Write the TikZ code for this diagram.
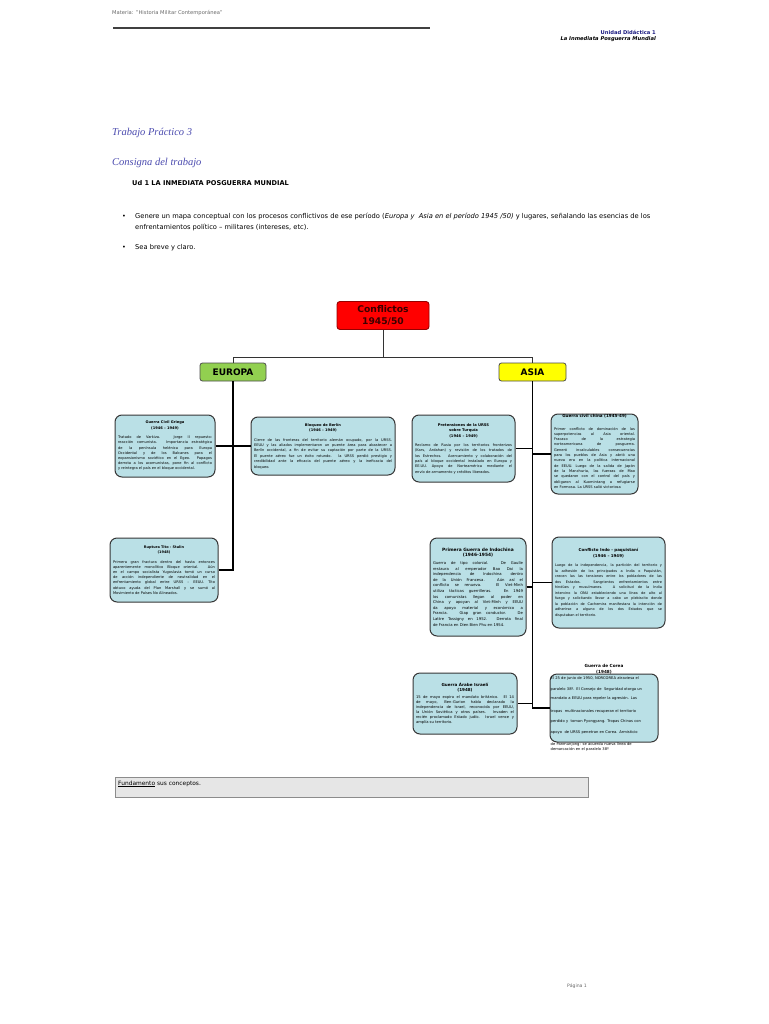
\documentclass[tikz,border=0pt]{standalone}
\usepackage{fontspec}
\setmainfont{DejaVu Sans}
\newfontfamily\serifit{Liberation Serif}
\definecolor{boxblue}{RGB}{186,224,230}
\definecolor{boxline}{RGB}{55,55,55}
\definecolor{eurgreen}{RGB}{146,208,80}
\definecolor{asiayellow}{RGB}{255,255,0}
\definecolor{confred}{RGB}{255,0,0}
\definecolor{confborder}{RGB}{150,0,0}
\definecolor{conftext}{RGB}{60,0,0}
\definecolor{titleblue}{RGB}{75,75,175}
\definecolor{navyblue}{RGB}{30,30,130}
\definecolor{hdrgray}{RGB}{105,105,105}
\definecolor{fundgray}{RGB}{230,230,230}
\newcommand\fs[2]{\fontsize{#1}{#2}\selectfont}
\newcommand\Jl[1]{\makebox[\linewidth][s]{#1}}
\newcommand\J[1]{\makebox[\linewidth][s]{#1}\newline}
\newcommand\btitle[2]{{\centering\bfseries\fs{#1}{5.6}#2\par}\vspace{4pt}}
\tikzset{
  concept/.style={draw=boxline, line width=1pt, fill=boxblue, rounded corners=7pt,
    inner xsep=3pt, inner ysep=2pt, align=justify},
  link/.style={line width=1.1pt, draw=black},
  toplink/.style={line width=1pt, draw=black!80},
  region/.style={draw=black!70, line width=0.8pt, rounded corners=2.5pt,
    font=\bfseries\fs{9}{10}, inner sep=0pt, minimum height=18pt},
  plain/.style={inner sep=0pt, align=left}
}
\begin{document}
\begin{tikzpicture}[x=1pt,y=-1pt]
\useasboundingbox[fill=white] (0,0) rectangle (768,1024);

% header
\node[plain, anchor=west, text=hdrgray, font=\fs{5.2}{6}] (materia) at (112,13) {Materia: "Historia Militar Contemporánea"};
\draw[line width=1.3pt, black!75] (113,28) -- (430,28);
\node[plain, anchor=east, text=navyblue, font=\bfseries\fs{5.2}{6}] (unidad) at (656,32) {Unidad Didáctica 1};
\node[plain, anchor=east, font=\bfseries\itshape\fs{5.2}{6}] (inmed) at (656,39) {La Inmediata Posguerra Mundial};

% titles
\node[plain, anchor=west, text=titleblue, font=\serifit\itshape\fs{10.5}{12}] (tp) at (112,133) {Trabajo Práctico 3};
\node[plain, anchor=west, text=titleblue, font=\serifit\itshape\fs{10.5}{12}] (cons) at (112,163) {Consigna del trabajo};
\node[plain, anchor=west, font=\bfseries\fs{6.6}{7}] (ud) at (132,183) {Ud 1 LA INMEDIATA POSGUERRA MUNDIAL};

% bullets
\node[plain, anchor=west, font=\fs{6.5}{7}] (b1) at (122,217) {•};
\node[plain, anchor=north west, font=\fs{6.7}{11}] (bt1) at (135,213.2) {Genere un mapa conceptual con los procesos conflictivos de ese período (\textit{Europa y\ \ Asia en el período 1945 /50)} y lugares, señalando las esencias de los\\enfrentamientos político – militares (intereses, etc).};
\node[plain, anchor=west, font=\fs{6.5}{7}] (b2) at (122,248) {•};
\node[plain, anchor=west, font=\fs{6.7}{7}] (bt2) at (135,248) {Sea breve y claro.};

% top of the map
\node[draw=confborder, line width=0.9pt, fill=confred, rounded corners=3pt, minimum width=92pt, minimum height=28pt,
  align=center, text=conftext, font=\bfseries\fs{9.2}{12.5}, inner sep=0pt] (conf) at (383,315.5) {Conflictos\\1945/50};
\node[region, fill=eurgreen, minimum width=66pt] (eur) at (233,372) {EUROPA};
\node[region, fill=asiayellow, minimum width=67pt] (asia) at (532.5,372) {ASIA};
\coordinate (hub) at (383,357);
\draw[toplink] (conf.south) -- (hub);
\draw[toplink] (eur.north) |- (hub);
\draw[toplink] (asia.north) |- (hub);

% Europe boxes
\node[concept, text width=94pt, minimum height=62pt] (greek) at (165,446) {%
\btitle{3.6}{Guerra Civil Griega\\(1946 – 1949)}\fs{3.6}{5.2}%
\J{Tratado de Varkiza. Jorge II repuesto:}%
\J{reacción comunista. Importancia estratégica}%
\J{de la península helénica para Europa}%
\J{Occidental y de los Balcanes para el}%
\J{expansionismo soviético en el Egeo. Papagos}%
\J{derrota a los acomunistas, pone fin al conflicto}%
y reintegra el país en el bloque occidental.\par};

\node[concept, text width=138pt, minimum height=58pt] (berlin) at (323,446) {%
\btitle{3.6}{Bloqueo de Berlín\\(1946 – 1949)}\fs{3.6}{5.4}%
\J{Cierre de las fronteras del territorio alemán ocupado, por la URSS.}%
\J{EEUU y las aliados implementaron un puente área para abastecer a}%
\J{Berlín occidental, a fin de evitar su captación por parte de la URSS.}%
\J{El puente aéreo fue un éxito rotundo. la URSS perdió prestigio y}%
\J{credibilidad ante la eficacia del puente aéreo y la ineficacia del}%
bloqueo.\par};

\node[concept, text width=102pt, minimum height=64pt] (tito) at (164,570) {%
\btitle{3.5}{Ruptura Tito - Stalin\\(1948)}\fs{3.6}{5.2}%
\J{Primera gran fractura dentro del hasta entonces}%
\J{aparentemente monolítico Bloque oriental. Aún}%
\J{en el campo socialista Yugoslavia tomó un curso}%
\J{de acción independiente de neutralidad en el}%
\J{enfrentamiento global entre URSS – EEUU. Tito}%
\J{obtuvo ayuda del Plan Marshall y se sumó al}%
Movimiento de Países No Alineados.\par};

% Asia boxes
\node[concept, text width=97pt, minimum height=67pt] (turq) at (463.5,448.5) {%
\btitle{3.7}{Pretensiones de la URSS\\sobre Turquía\\(1946 – 1949)}\fs{3.6}{5.3}%
\J{Reclamo de Rusia por los territorios fronterizos}%
\J{(Kars, Ardahan) y revisión de los tratados de}%
\J{los Estrechos. Acercamiento y colaboración del}%
\J{país al bloque occidental instalado en Europa y}%
\J{EE.UU. Apoyo de Norteamérica mediante el}%
envío de armamento y créditos liberados.\par};

\node[concept, text width=81pt, minimum height=80pt] (china) at (594.5,454) {%
\fs{3.6}{5.3}%
\J{\rule{0pt}{10.5pt}Primer conflicto de dominación de las}%
\J{superpotencias al Asia oriental.}%
\J{Fracaso de la estrategia}%
\J{norteamericana de posguerra.}%
\J{Generó incalculables consecuencias}%
\J{para los pueblos de Asia y abrió una}%
\J{nueva era en la política internacional}%
\J{de EEUU. Luego de la salida de Japón}%
\J{de la Manchuria, las fuerzas de Mao}%
\J{se quedaron con el control del país y}%
\J{obligaron al Kuomintang a refugiarse}%
en Formosa. La URSS salió victoriosa\par};
\node[plain, font=\bfseries\fs{4.1}{5}] (chinatitle) at (594.5,416) {Guerra civil china (1945-49)};

\node[concept, text width=90pt, minimum height=98pt] (indoch) at (478,587) {%
\btitle{4.4}{Primera Guerra de Indochina\\(1946-1954)}\vspace{-2pt}\fs{3.8}{5.6}%
\J{Guerra de tipo colonial. De Gaulle}%
\J{restaura al emperador Bao Dai la}%
\J{independencia de Indochina dentro}%
\J{de la Unión Francesa. Aún así el}%
\J{conflicto se renueva. El Viet-Minh}%
\J{utiliza tácticas guerrilleras. En 1949}%
\J{los comunistas llegan al poder en}%
\J{China y apoyan al Viet-Minh y EEUU}%
\J{da apoyo material y económico a}%
\J{Francia. Giap gran conductor. De}%
\J{Lattre Tassigny en 1952. Derrota final}%
de Francia en Dien Bien Phu en 1954.\par};

\node[concept, text width=107pt, minimum height=91pt] (indopak) at (608.5,582.5) {%
\btitle{4.0}{Conflicto Indo - paquistaní\\(1946 – 1949)}\fs{3.5}{5.5}%
\J{Luego de la independencia, la partición del territorio y}%
\J{la adhesión de los principados a India o Paquistán,}%
\J{crecen las las tensiones entre los pobladores de las}%
\J{dos Estados. Sangrientos enfrentamientos entre}%
\J{hindúes y musulmanes. A solicitud de la India}%
\J{intervino la ONU estableciendo una línea de alto al}%
\J{fuego y solicitando llevar a cabo un plebiscito donde}%
\J{la población de Cachemira manifestara la intención de}%
\J{adherirse a alguno de los dos Estados que se}%
disputaban el territorio.\par};

\node[concept, text width=98pt, minimum height=61pt] (arabe) at (465,703.5) {%
\btitle{4.1}{Guerra Árabe Israelí\\(1948)}\vspace{-2pt}\fs{3.7}{5}%
\J{15 de mayo expira el mandato británico. El 14}%
\J{de mayo, Ben-Gurion había declarado la}%
\J{independencia de Israel, reconocida por EEUU,}%
\J{la Unión Soviética y otros países. Invaden el}%
\J{recién proclamado Estado judío. Israel vence y}%
amplía su territorio.\par};

\node[concept, minimum width=108pt, minimum height=68pt, inner sep=0pt] (corea) at (604,708) {};
\node[plain, align=center, font=\bfseries\fs{4.2}{6}] (coreatitle) at (604,669) {Guerra de Corea\\(1948)};
\node[plain, anchor=north west, text width=107pt, font=\fs{3.7}{4.5}] (coreatext) at (550.5,676) {%
\Jl{El 25 de junio de 1950, NORCOREA atraviesa el}\\[6.5pt]
\Jl{paralelo 38º. El Consejo de\ \ Seguridad otorga un}\\[4.5pt]
\Jl{mandato a EEUU para repeler la agresión. Las}\\[8.5pt]
\Jl{tropas\ \ multinacionales recuperan el territorio}\\[5.5pt]
\Jl{perdido y\ \ toman Pyongyang. Tropas Chinas con}\\[6.5pt]
\Jl{apoyo\ \ de URSS penetran en Corea. Armisticio}\\[7.5pt]
\Jl{de Panmunjong: se acuerda nueva línea de}\\[0.8pt]
demarcación en el paralelo 38º\par};

% connectors Europe
\draw[link] (eur.south) |- (tito.east);
\draw[link] (greek.east) -- (berlin.west);
% connectors Asia
\draw[link] (asia.south) |- (arabe.east);
\draw[link] (asia.south) |- (corea.west);
\draw[link] (turq.east) -- (turq.east -| asia.south);
\draw[link] (china.west) -- (china.west -| asia.south);
\draw[link] (indoch.east) -- (indoch.east -| asia.south);
\draw[link] (indopak.west) -- (indopak.west -| asia.south);

% bottom box
\node[draw=black!45, line width=0.8pt, fill=fundgray, minimum width=473pt, minimum height=20pt, inner sep=0pt, anchor=north west] (fundbox) at (115,777) {};
\node[plain, anchor=west, font=\fs{5.9}{7}] (fundtext) at (118,784) {\underline{Fundamento} sus conceptos.};

% footer
\node[plain, anchor=west, text=hdrgray, font=\fs{4.6}{5}] (pagina) at (567,986) {Página 1};
\end{tikzpicture}
\end{document}
